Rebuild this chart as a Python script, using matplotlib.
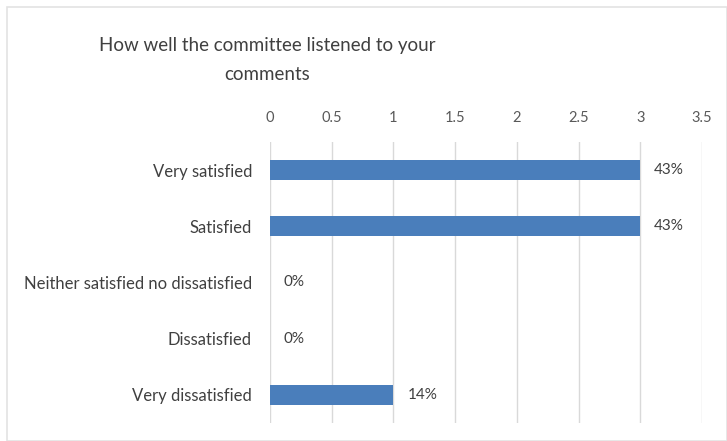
import matplotlib
matplotlib.use("Agg")
import matplotlib.pyplot as plt
from matplotlib.patches import Rectangle

categories = ["Very satisfied", "Satisfied", "Neither satisfied no dissatisfied",
              "Dissatisfied", "Very dissatisfied"]
counts = [3, 3, 0, 0, 1]
xticks = [0, 0.5, 1, 1.5, 2, 2.5, 3, 3.5]
xtick_labels = ["0", "0.5", "1", "1.5", "2", "2.5", "3", "3.5"]
title = "How well the committee listened to your\ncomments"

total = sum(counts)
pct_labels = [f"{round(100 * c / total)}%" for c in counts]

plt.rcParams["font.family"] = ["Lato", "DejaVu Sans"]

W, H = 727, 441
fig = plt.figure(figsize=(W / 100, H / 100), dpi=100)
fig.patch.set_facecolor("white")

# light chart-area frame
fig.patches.append(Rectangle((7 / W, 0 / H), (W - 7) / W, (H - 7) / H,
                             transform=fig.transFigure, fill=False,
                             edgecolor="#e3e3e3", linewidth=1.2))

left, right, top, bottom = 270, 702, 142, 423
ax = fig.add_axes([left / W, 1 - bottom / H, (right - left) / W, (bottom - top) / H])

y = list(range(len(categories)))
ax.barh(y, counts, height=0.36, color="#4a7ebb", zorder=3)
ax.set_ylim(len(categories) - 0.5, -0.5)
ax.set_xlim(0, 3.5)

ax.set_xticks(xticks)
ax.set_xticklabels(xtick_labels)
ax.xaxis.tick_top()
ax.tick_params(axis="x", length=0, pad=12, labelsize=10.5, colors="#595959")
ax.tick_params(axis="y", length=0, pad=13, labelsize=12, colors="#404040")
ax.set_yticks(y)
ax.set_yticklabels(categories)

ax.grid(axis="x", color="#d9d9d9", linewidth=1, zorder=0)
for s in ax.spines.values():
    s.set_visible(False)

for yi, c, lab in zip(y, counts, pct_labels):
    ax.annotate(lab, (c, yi), xytext=(10, 0), textcoords="offset points",
                va="center", ha="left", fontsize=11, color="#404040")

fig.text(267 / W, 1 - 60 / H, title, ha="center", va="center",
         fontsize=13.5, color="#404040", linespacing=1.9)

fig.savefig("out.png", dpi=100)
